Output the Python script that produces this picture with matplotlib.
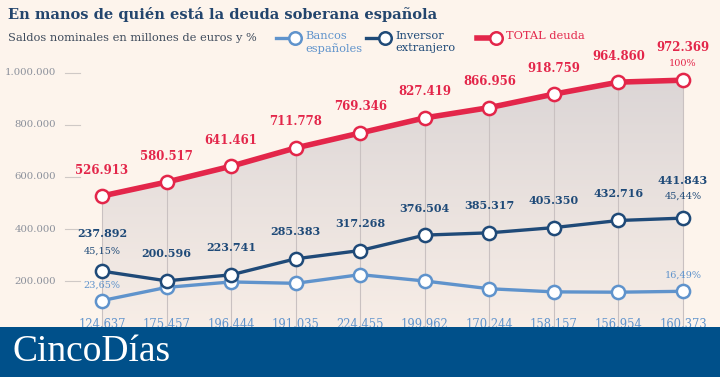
import numpy as np
import matplotlib.pyplot as plt
from matplotlib.patches import Polygon, Rectangle
from matplotlib.colors import LinearSegmentedColormap

years = list(range(10))
bancos = [124637, 175457, 196444, 191035, 224455, 199962, 170244, 158157, 156954, 160373]
inversor = [237892, 200596, 223741, 285383, 317268, 376504, 385317, 405350, 432716, 441843]
total = [526913, 580517, 641461, 711778, 769346, 827419, 866956, 918759, 964860, 972369]
yticks = [200000, 400000, 600000, 800000, 1000000]

bg = '#fdf4ec'
red = '#e3264a'
navy = '#1f4a78'
light = '#5f93cc'
title_c = '#23456d'

def fmt(v):
    return f'{v:,}'.replace(',', '.')

fig = plt.figure(figsize=(7.2, 3.77), dpi=100, facecolor=bg)
ax = fig.add_axes([0, 0, 1, 1])
ax.set_axis_off()
ax.set_facecolor(bg)
# axis scale: 64.56 px per year, 52 px per 200.000
px = 64.56
ax.set_xlim(-102 / px, (720 - 102) / px)
ax.set_ylim(-44 / 52 * 200000, 333 / 52 * 200000)
ppy = 200000 / 52  # value per pixel

# gradient fill under total line
verts = [(0, 0)] + list(zip(years, total)) + [(years[-1], 0)]
poly = Polygon(verts, closed=True, facecolor='none', edgecolor='none')
ax.add_patch(poly)
grad = np.linspace(0, 1, 256).reshape(-1, 1)
cmap = LinearSegmentedColormap.from_list('g', ['#f8eee7', '#dcd6d6'])
im = ax.imshow(grad, cmap=cmap, aspect='auto', origin='lower',
               extent=[years[0], years[-1], 0, max(total)], zorder=1)
im.set_clip_path(poly)

for x, t in zip(years, total):
    ax.plot([x, x], [0, t], color='#c9c1c1', lw=0.8, zorder=2)

# y ticks
for t in yticks:
    ax.text((56 - 102) / px, t, fmt(t), ha='right', va='center',
            fontsize=7.3, color='#8b909b', family='DejaVu Serif', zorder=3)
    ax.plot([(65 - 102) / px, (80 - 102) / px], [t, t], color='#cfc9c6', lw=0.8, zorder=3)

mk = dict(marker='o', markersize=9.5, markerfacecolor='white', markeredgewidth=1.8)
ax.plot(years, bancos, color=light, lw=2.4, markeredgecolor=light, zorder=4, **mk)
ax.plot(years, inversor, color=navy, lw=2.4, markeredgecolor=navy, zorder=5, **mk)
ax.plot(years, total, color=red, lw=4, markeredgecolor=red, zorder=6, **mk)

# labels
for i, v in enumerate(total):
    off = 33 if i == len(total) - 1 else 26
    ax.text(i, v + off * ppy, fmt(v), ha='center', va='center', fontsize=8.5,
            fontweight='bold', color=red, family='DejaVu Serif', zorder=7)
ax.text(years[-1], total[-1] + 17 * ppy, '100%', ha='center', va='center',
        fontsize=7, color=red, family='DejaVu Serif', zorder=7)

for i, v in enumerate(inversor):
    off = 38 if i in (0, len(inversor) - 1) else 27
    ax.text(i, v + off * ppy, fmt(v), ha='center', va='center', fontsize=8,
            fontweight='bold', color=navy, family='DejaVu Serif', zorder=7)
ax.text(0, inversor[0] + 20 * ppy, '45,15%', ha='center', va='center',
        fontsize=7, color=navy, family='DejaVu Serif', zorder=7)
ax.text(years[-1], inversor[-1] + 22 * ppy, '45,44%', ha='center', va='center',
        fontsize=7, color=navy, family='DejaVu Serif', zorder=7)

for i, v in enumerate(bancos):
    ax.text(i, 9 * ppy, fmt(v), ha='center', va='center', fontsize=8.3,
            color=light, family='DejaVu Serif', zorder=3)
ax.text(0, bancos[0] + 15 * ppy, '23,65%', ha='center', va='center',
        fontsize=7, color=light, family='DejaVu Serif', zorder=7)
ax.text(years[-1], bancos[-1] + 16 * ppy, '16,49%', ha='center', va='center',
        fontsize=7, color=light, family='DejaVu Serif', zorder=7)

# header
fig.text(8 / 720, 1 - 14 / 377, 'En manos de quién está la deuda soberana española',
         ha='left', va='center', fontsize=10.5, fontweight='bold', color=title_c,
         family='DejaVu Serif')
fig.text(8 / 720, 1 - 38 / 377, 'Saldos nominales en millones de euros y %',
         ha='left', va='center', fontsize=8.2, color='#3e4b5c', family='DejaVu Serif')

legend = [('Bancos\nespañoles', light, 276, 2.4), ('Inversor\nextranjero', navy, 366, 2.4),
          ('TOTAL deuda', red, 477, 4)]
for label, c, x0, lw in legend:
    y = 1 - 38 / 377
    fig.add_artist(plt.Line2D([x0 / 720, (x0 + 16) / 720], [y, y], color=c, lw=lw,
                              transform=fig.transFigure))
    fig.add_artist(plt.Line2D([(x0 + 19) / 720], [y], marker='o', markersize=9,
                              markerfacecolor='white', markeredgecolor=c,
                              markeredgewidth=1.8, transform=fig.transFigure))
    fig.text((x0 + 29) / 720, 1 - 31 / 377, label, ha='left', va='top',
             fontsize=8.2, color=c, family='DejaVu Serif', linespacing=1.3)

# banner
fig.add_artist(Rectangle((0, 0), 1, 50 / 377, transform=fig.transFigure,
                         facecolor='#00508a', edgecolor='none', zorder=10))
fig.text(12 / 720, 25 / 377, 'CincoDías', ha='left', va='center', fontsize=27,
         color='white', family='Liberation Serif', zorder=11)

fig.savefig('out.png', dpi=100, facecolor=bg)
